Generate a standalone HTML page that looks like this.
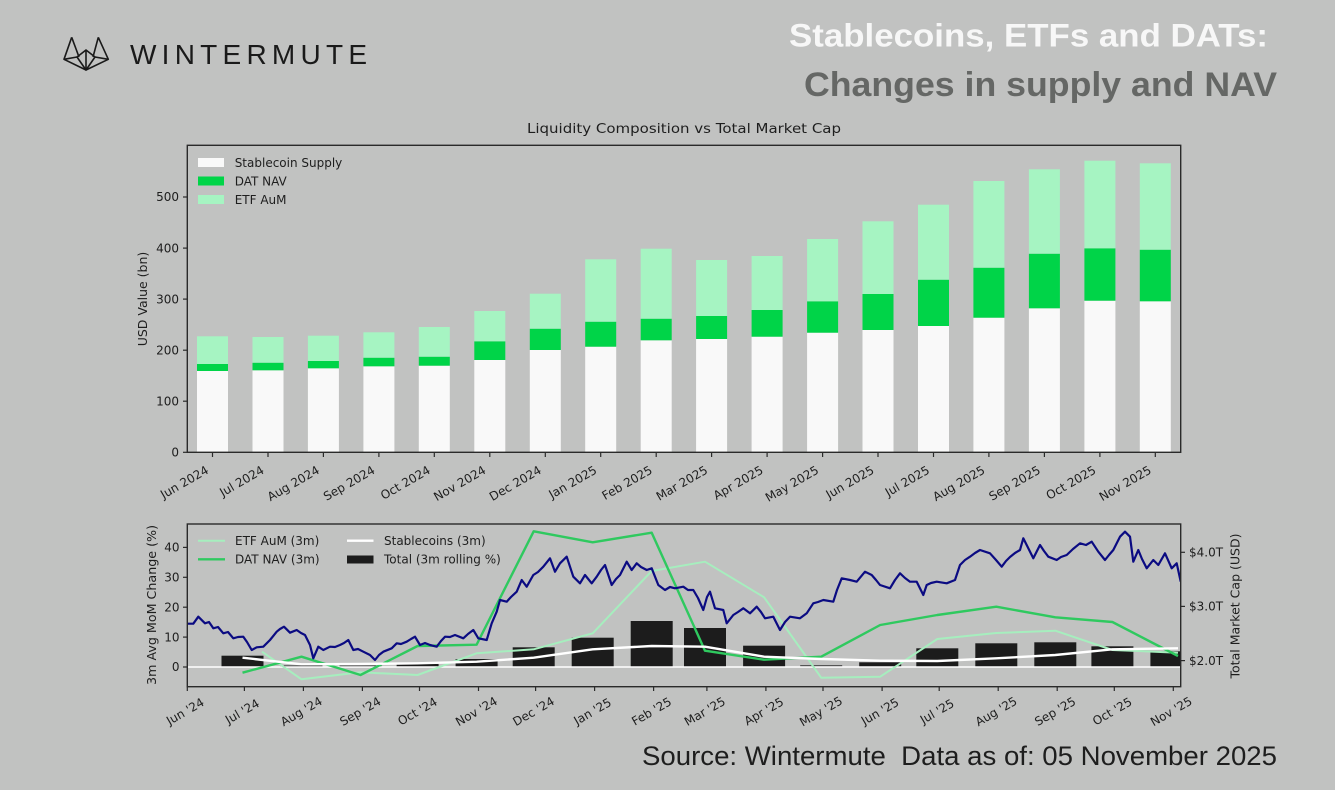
<!DOCTYPE html>
<html>
<head>
<meta charset="utf-8">
<style>
  html, body { margin:0; padding:0; background:#c1c2c1; }
  svg { display:block; }
  .t { font-family: "DejaVu Sans", "Liberation Sans", sans-serif; fill:#1e1e1e; }
</style>
</head>
<body>
<svg width="1335" height="790" viewBox="0 0 1335 790" xmlns="http://www.w3.org/2000/svg">
  <rect x="0" y="0" width="1335" height="790" fill="#c1c2c1"/>

  <!-- Logo -->
  <g fill="none" stroke="#1a1a1a" stroke-width="1.6" stroke-linejoin="round">
    <polyline points="71.7,37.3 64,59.3 86,70 108.3,59.3 98.3,37.3"/>
    <line x1="71.7" y1="37.3" x2="79" y2="57"/>
    <line x1="98.3" y1="37.3" x2="93" y2="57"/>
    <polygon points="86,50 77,57 86,70 95,57"/>
    <line x1="86" y1="50" x2="86" y2="70"/>
    <line x1="64" y1="59.3" x2="77" y2="57"/>
    <line x1="108.3" y1="59.3" x2="95" y2="57"/>
  </g>
  <text x="130" y="64" font-family="Liberation Sans, sans-serif" font-size="28" fill="#1a1a1a" textLength="237" lengthAdjust="spacing">WINTERMUTE</text>

  <!-- Title -->
  <text x="789" y="46.5" font-family="Liberation Sans, sans-serif" font-weight="bold" font-size="32.5" fill="#f7f7f7" textLength="479" lengthAdjust="spacingAndGlyphs">Stablecoins, ETFs and DATs:</text>
  <text x="804" y="96" font-family="Liberation Sans, sans-serif" font-weight="bold" font-size="34" fill="#656765" textLength="473" lengthAdjust="spacingAndGlyphs">Changes in supply and NAV</text>

  <!-- Top chart title -->
  <text class="t" x="684" y="133" font-size="13" text-anchor="middle" textLength="314" lengthAdjust="spacingAndGlyphs">Liquidity Composition vs Total Market Cap</text>

  <!-- ============ TOP CHART ============ -->
  <g id="topbars">
    <!-- bars: center = 212.5 + 55.46*i, width 31 -->
    <!-- i=0 -->
    <rect x="197" y="371" width="31" height="81.3" fill="#f9f9f9"/>
    <rect x="197" y="364" width="31" height="7" fill="#00d448"/>
    <rect x="197" y="336.3" width="31" height="27.7" fill="#a6f4c2"/>
    <!-- i=1 -->
    <rect x="252.5" y="370.3" width="31" height="82" fill="#f9f9f9"/>
    <rect x="252.5" y="362.7" width="31" height="7.6" fill="#00d448"/>
    <rect x="252.5" y="337" width="31" height="25.7" fill="#a6f4c2"/>
    <!-- i=2 -->
    <rect x="307.9" y="368.3" width="31" height="84" fill="#f9f9f9"/>
    <rect x="307.9" y="361" width="31" height="7.3" fill="#00d448"/>
    <rect x="307.9" y="335.7" width="31" height="25.3" fill="#a6f4c2"/>
    <!-- i=3 -->
    <rect x="363.4" y="366.3" width="31" height="86" fill="#f9f9f9"/>
    <rect x="363.4" y="357.7" width="31" height="8.6" fill="#00d448"/>
    <rect x="363.4" y="332.3" width="31" height="25.4" fill="#a6f4c2"/>
    <!-- i=4 -->
    <rect x="418.8" y="365.7" width="31" height="86.6" fill="#f9f9f9"/>
    <rect x="418.8" y="356.7" width="31" height="9" fill="#00d448"/>
    <rect x="418.8" y="327" width="31" height="29.7" fill="#a6f4c2"/>
    <!-- i=5 -->
    <rect x="474.3" y="360" width="31" height="92.3" fill="#f9f9f9"/>
    <rect x="474.3" y="341.3" width="31" height="18.7" fill="#00d448"/>
    <rect x="474.3" y="311" width="31" height="30.3" fill="#a6f4c2"/>
    <!-- i=6 -->
    <rect x="529.8" y="350" width="31" height="102.3" fill="#f9f9f9"/>
    <rect x="529.8" y="328.7" width="31" height="21.3" fill="#00d448"/>
    <rect x="529.8" y="293.7" width="31" height="35" fill="#a6f4c2"/>
    <!-- i=7 -->
    <rect x="585.2" y="346.7" width="31" height="105.6" fill="#f9f9f9"/>
    <rect x="585.2" y="321.7" width="31" height="25" fill="#00d448"/>
    <rect x="585.2" y="259.3" width="31" height="62.4" fill="#a6f4c2"/>
    <!-- i=8 -->
    <rect x="640.7" y="340.3" width="31" height="112" fill="#f9f9f9"/>
    <rect x="640.7" y="318.7" width="31" height="21.6" fill="#00d448"/>
    <rect x="640.7" y="248.7" width="31" height="70" fill="#a6f4c2"/>
    <!-- i=9 -->
    <rect x="696.1" y="339" width="31" height="113.3" fill="#f9f9f9"/>
    <rect x="696.1" y="316" width="31" height="23" fill="#00d448"/>
    <rect x="696.1" y="260" width="31" height="56" fill="#a6f4c2"/>
    <!-- i=10 -->
    <rect x="751.6" y="336.7" width="31" height="115.6" fill="#f9f9f9"/>
    <rect x="751.6" y="310" width="31" height="26.7" fill="#00d448"/>
    <rect x="751.6" y="256" width="31" height="54" fill="#a6f4c2"/>
    <!-- i=11 -->
    <rect x="807.1" y="332.7" width="31" height="119.6" fill="#f9f9f9"/>
    <rect x="807.1" y="301.3" width="31" height="31.4" fill="#00d448"/>
    <rect x="807.1" y="239" width="31" height="62.3" fill="#a6f4c2"/>
    <!-- i=12 -->
    <rect x="862.5" y="330" width="31" height="122.3" fill="#f9f9f9"/>
    <rect x="862.5" y="294" width="31" height="36" fill="#00d448"/>
    <rect x="862.5" y="221.3" width="31" height="72.7" fill="#a6f4c2"/>
    <!-- i=13 -->
    <rect x="918" y="326" width="31" height="126.3" fill="#f9f9f9"/>
    <rect x="918" y="279.7" width="31" height="46.3" fill="#00d448"/>
    <rect x="918" y="204.7" width="31" height="75" fill="#a6f4c2"/>
    <!-- i=14 -->
    <rect x="973.4" y="317.7" width="31" height="134.6" fill="#f9f9f9"/>
    <rect x="973.4" y="267.7" width="31" height="50" fill="#00d448"/>
    <rect x="973.4" y="181" width="31" height="86.7" fill="#a6f4c2"/>
    <!-- i=15 -->
    <rect x="1028.9" y="308.3" width="31" height="144" fill="#f9f9f9"/>
    <rect x="1028.9" y="253.7" width="31" height="54.6" fill="#00d448"/>
    <rect x="1028.9" y="169.3" width="31" height="84.4" fill="#a6f4c2"/>
    <!-- i=16 -->
    <rect x="1084.4" y="300.7" width="31" height="151.6" fill="#f9f9f9"/>
    <rect x="1084.4" y="248.3" width="31" height="52.4" fill="#00d448"/>
    <rect x="1084.4" y="160.7" width="31" height="87.6" fill="#a6f4c2"/>
    <!-- i=17 -->
    <rect x="1139.8" y="301.3" width="31" height="151" fill="#f9f9f9"/>
    <rect x="1139.8" y="249.7" width="31" height="51.6" fill="#00d448"/>
    <rect x="1139.8" y="163.3" width="31" height="86.4" fill="#a6f4c2"/>
  </g>

  <!-- top frame -->
  <rect x="187.3" y="145.3" width="993.4" height="307" fill="none" stroke="#2a2a2a" stroke-width="1.4"/>

  <!-- top y ticks -->
  <g stroke="#2a2a2a" stroke-width="1.2">
    <line x1="183" y1="452.3" x2="187.3" y2="452.3"/>
    <line x1="183" y1="401.2" x2="187.3" y2="401.2"/>
    <line x1="183" y1="350.2" x2="187.3" y2="350.2"/>
    <line x1="183" y1="299.1" x2="187.3" y2="299.1"/>
    <line x1="183" y1="248.1" x2="187.3" y2="248.1"/>
    <line x1="183" y1="197" x2="187.3" y2="197"/>
  </g>
  <g class="t" font-size="12" text-anchor="end">
    <text x="179" y="456.5">0</text>
    <text x="179" y="405.4">100</text>
    <text x="179" y="354.4">200</text>
    <text x="179" y="303.3">300</text>
    <text x="179" y="252.3">400</text>
    <text x="179" y="201.2">500</text>
  </g>
  <text class="t" font-size="12.5" text-anchor="middle" transform="translate(147,299) rotate(-90)">USD Value (bn)</text>

  <!-- top x ticks -->
  <g stroke="#2a2a2a" stroke-width="1.2">
    <line x1="212.5" y1="452.3" x2="212.5" y2="457"/>
    <line x1="268" y1="452.3" x2="268" y2="457"/>
    <line x1="323.4" y1="452.3" x2="323.4" y2="457"/>
    <line x1="378.9" y1="452.3" x2="378.9" y2="457"/>
    <line x1="434.3" y1="452.3" x2="434.3" y2="457"/>
    <line x1="489.8" y1="452.3" x2="489.8" y2="457"/>
    <line x1="545.3" y1="452.3" x2="545.3" y2="457"/>
    <line x1="600.7" y1="452.3" x2="600.7" y2="457"/>
    <line x1="656.2" y1="452.3" x2="656.2" y2="457"/>
    <line x1="711.6" y1="452.3" x2="711.6" y2="457"/>
    <line x1="767.1" y1="452.3" x2="767.1" y2="457"/>
    <line x1="822.6" y1="452.3" x2="822.6" y2="457"/>
    <line x1="878" y1="452.3" x2="878" y2="457"/>
    <line x1="933.5" y1="452.3" x2="933.5" y2="457"/>
    <line x1="988.9" y1="452.3" x2="988.9" y2="457"/>
    <line x1="1044.4" y1="452.3" x2="1044.4" y2="457"/>
    <line x1="1099.9" y1="452.3" x2="1099.9" y2="457"/>
    <line x1="1155.3" y1="452.3" x2="1155.3" y2="457"/>
  </g>
  <g class="t" font-size="12" text-anchor="end">
    <text transform="translate(209.5,472.5) rotate(-30)">Jun 2024</text>
    <text transform="translate(265,472.5) rotate(-30)">Jul 2024</text>
    <text transform="translate(320.4,472.5) rotate(-30)">Aug 2024</text>
    <text transform="translate(375.9,472.5) rotate(-30)">Sep 2024</text>
    <text transform="translate(431.3,472.5) rotate(-30)">Oct 2024</text>
    <text transform="translate(486.8,472.5) rotate(-30)">Nov 2024</text>
    <text transform="translate(542.3,472.5) rotate(-30)">Dec 2024</text>
    <text transform="translate(597.7,472.5) rotate(-30)">Jan 2025</text>
    <text transform="translate(653.2,472.5) rotate(-30)">Feb 2025</text>
    <text transform="translate(708.6,472.5) rotate(-30)">Mar 2025</text>
    <text transform="translate(764.1,472.5) rotate(-30)">Apr 2025</text>
    <text transform="translate(819.6,472.5) rotate(-30)">May 2025</text>
    <text transform="translate(875,472.5) rotate(-30)">Jun 2025</text>
    <text transform="translate(930.5,472.5) rotate(-30)">Jul 2025</text>
    <text transform="translate(985.9,472.5) rotate(-30)">Aug 2025</text>
    <text transform="translate(1041.4,472.5) rotate(-30)">Sep 2025</text>
    <text transform="translate(1096.9,472.5) rotate(-30)">Oct 2025</text>
    <text transform="translate(1152.3,472.5) rotate(-30)">Nov 2025</text>
  </g>

  <!-- top legend -->
  <rect x="198" y="158" width="26" height="9" fill="#f9f9f9"/>
  <rect x="198" y="176.5" width="26" height="9" fill="#00d448"/>
  <rect x="198" y="195" width="26" height="9" fill="#a6f4c2"/>
  <g class="t" font-size="12">
    <text x="234.7" y="167">Stablecoin Supply</text>
    <text x="234.7" y="185.5">DAT NAV</text>
    <text x="234.7" y="204">ETF AuM</text>
  </g>

  <!-- ============ BOTTOM CHART ============ -->
  <defs>
    <clipPath id="clipB"><rect x="187.3" y="524" width="993.4" height="162.7"/></clipPath>
  </defs>
  <g clip-path="url(#clipB)">
    <!-- bars: width 42, centers at month-ends -->
    <g fill="#1c1c1c">
      <rect x="221.5" y="655.7" width="42" height="11.3"/>
      <rect x="280.5" y="665.5" width="42" height="1.5"/>
      <rect x="339.5" y="665.5" width="42" height="1.5"/>
      <rect x="396.6" y="663.7" width="42" height="3.3"/>
      <rect x="455.6" y="659" width="42" height="8"/>
      <rect x="512.7" y="647.3" width="42" height="19.7"/>
      <rect x="571.7" y="637.7" width="42" height="29.3"/>
      <rect x="630.7" y="621" width="42" height="46"/>
      <rect x="684" y="628" width="42" height="39"/>
      <rect x="743.1" y="645.7" width="42" height="21.3"/>
      <rect x="800.2" y="665" width="42" height="2" fill="#555"/>
      <rect x="859.2" y="662.3" width="42" height="4.7"/>
      <rect x="916.3" y="648.3" width="42" height="18.7"/>
      <rect x="975.3" y="643.3" width="42" height="23.7"/>
      <rect x="1034.3" y="642.3" width="42" height="24.7"/>
      <rect x="1091.4" y="646.3" width="42" height="20.7"/>
      <rect x="1150.4" y="651.3" width="42" height="15.7"/>
    </g>
    <!-- zero line -->
    <line x1="187.3" y1="667" x2="1180.7" y2="667" stroke="#ffffff" stroke-width="1.6"/>
    <!-- ETF AuM (3m) -->
    <polyline fill="none" stroke="#a6eebe" stroke-width="2" stroke-linejoin="round"
      points="262,651.7 301.5,679.3 360.5,672.3 417.6,675 476.6,653.3 533.7,649.3 592.7,633.3 651.7,571 705,561.7 764.1,597.3 821.2,677.7 880.2,676.7 937.3,639 996.3,633 1055.3,630.7 1112.4,650 1178,652.7"/>
    <!-- DAT NAV (3m) -->
    <polyline fill="none" stroke="#2fc95f" stroke-width="2.4" stroke-linejoin="round"
      points="242.5,672.7 301.5,656.7 360.5,675 417.6,646 476.6,644.7 533.7,531.3 592.7,542.3 651.7,532.7 705,650.7 764.1,659.7 821.2,656.7 880.2,625 937.3,615 996.3,606.7 1055.3,617.3 1112.4,622 1178,656"/>
    <!-- Stablecoins (3m) -->
    <polyline fill="none" stroke="#ffffff" stroke-width="2.4" stroke-linejoin="round"
      points="242.5,657.7 301.5,664.3 360.5,664 417.6,663.3 476.6,661.7 533.7,657.7 592.7,649.3 651.7,646 705,646.7 764.1,656.7 821.2,659 880.2,660.7 937.3,661 996.3,658.3 1055.3,655 1112.4,649.3 1178,648.3"/>
    <!-- Total market cap -->
    <polyline fill="none" stroke="#0b0b82" stroke-width="2.2" stroke-linejoin="round"
      points="187.3,623.7 193.3,623.7 198.3,616.7 205,623.3 209,622 213.3,628.3 218,627 223.3,633.3 228,632 233.3,638.3 238,637 243.3,636.7 247,642 251.7,650 256.7,647.3 263.3,646.7 270,640 276.7,631.7 280,629 284,626.7 290,632.7 296.7,630 301,633 305,635 310,645 313.3,658.3 318.3,646.7 323.3,650 330,646.7 335,647 340,645 344,643 348.3,640 353.3,650 358,649 363.3,651.7 370,655 375,660 379,655 383.3,651.7 391.7,648.3 396.7,643.3 401,644 406.7,641.7 411,639 415,636.7 420,645 425,643 430,645 436.7,646.7 441,641 445,636.7 450,637 455,635 463.3,638.3 468,634 473.3,630 478.3,638.3 486.7,640 491.7,623.3 496.7,611.7 500,600 506.7,601.7 511,597 516.7,591.7 521.7,580 526.7,586.7 533.3,575 538,572 543.3,566.7 550,558.3 555,571.7 560,563.3 566.7,556.7 573.3,576.7 580,583.3 585,575 591.7,583.3 596.7,576.7 601,570 605,565 611.7,585 616,579 620,575 626.7,561.7 631.7,570 636.7,563.3 641,567 646.7,570 651.7,568.3 658.3,585 665,590 670,587 675,588.3 683.3,586.7 688,590 693.3,590 698,598 703.3,610 707,597 710,591.7 715,608.3 723.3,610 726.7,623.3 733.3,615 738,612 743.3,608.3 750,613.3 756.7,606.7 761,612 765,618.3 773.3,616.7 780,630 785,622 790,616.7 800,618.3 806.7,613.3 813.3,603.3 818,602 823.3,600 833.3,601.7 837,590 841.7,578.3 850,580 856.7,581.7 865,571.7 871.7,575 876,580 880,585 890,588.3 895,580 900,573.3 905,578 910,581.7 916.7,581.7 923.3,595 926.7,585 931,583 936.7,581.7 946.7,583.3 955,580 960,565 965,560 970,556.7 975,553 980,550 990,553.3 996,560 1001.7,566.7 1006,561 1010,557 1015,553 1020,550 1023.3,538.3 1028.3,548.3 1033.3,558.3 1040,545 1044,551 1048.3,556.7 1056.7,560 1061,557 1066.7,555 1073,549 1080,543.3 1086,545 1091.7,541.7 1098.3,551.7 1105,560 1109,555 1113.3,550 1120,536.7 1125,531.7 1130,536.7 1133.3,561.7 1138.3,550 1142,559 1146.7,568.3 1153.3,560 1158.3,565 1165,553.3 1171.7,568.3 1176.7,563.3 1180.7,581.7"/>
  </g>

  <!-- bottom frame -->
  <rect x="187.3" y="524" width="993.4" height="162.7" fill="none" stroke="#2a2a2a" stroke-width="1.4"/>

  <!-- bottom left y ticks -->
  <g stroke="#2a2a2a" stroke-width="1.2">
    <line x1="183" y1="667" x2="187.3" y2="667"/>
    <line x1="183" y1="637.1" x2="187.3" y2="637.1"/>
    <line x1="183" y1="607.2" x2="187.3" y2="607.2"/>
    <line x1="183" y1="577.3" x2="187.3" y2="577.3"/>
    <line x1="183" y1="547.4" x2="187.3" y2="547.4"/>
  </g>
  <g class="t" font-size="12" text-anchor="end">
    <text x="179.5" y="671.2">0</text>
    <text x="179.5" y="641.3">10</text>
    <text x="179.5" y="611.4">20</text>
    <text x="179.5" y="581.5">30</text>
    <text x="179.5" y="551.6">40</text>
  </g>
  <text class="t" font-size="12.5" text-anchor="middle" transform="translate(156,605) rotate(-90)" textLength="160" lengthAdjust="spacingAndGlyphs">3m Avg MoM Change (%)</text>

  <!-- bottom right y ticks -->
  <g stroke="#2a2a2a" stroke-width="1.2">
    <line x1="1180.7" y1="552.3" x2="1185" y2="552.3"/>
    <line x1="1180.7" y1="606.4" x2="1185" y2="606.4"/>
    <line x1="1180.7" y1="660.6" x2="1185" y2="660.6"/>
  </g>
  <g class="t" font-size="12">
    <text x="1189" y="556.5">$4.0T</text>
    <text x="1189" y="610.6">$3.0T</text>
    <text x="1189" y="664.8">$2.0T</text>
  </g>
  <text class="t" font-size="12.5" text-anchor="middle" transform="translate(1239.5,606) rotate(-90)" textLength="145" lengthAdjust="spacingAndGlyphs">Total Market Cap (USD)</text>

  <!-- bottom x ticks -->
  <g stroke="#2a2a2a" stroke-width="1.2">
    <line x1="187.3" y1="686.7" x2="187.3" y2="691"/>
    <line x1="244.4" y1="686.7" x2="244.4" y2="691"/>
    <line x1="303.4" y1="686.7" x2="303.4" y2="691"/>
    <line x1="362.4" y1="686.7" x2="362.4" y2="691"/>
    <line x1="419.5" y1="686.7" x2="419.5" y2="691"/>
    <line x1="478.5" y1="686.7" x2="478.5" y2="691"/>
    <line x1="535.6" y1="686.7" x2="535.6" y2="691"/>
    <line x1="594.6" y1="686.7" x2="594.6" y2="691"/>
    <line x1="653.6" y1="686.7" x2="653.6" y2="691"/>
    <line x1="706.9" y1="686.7" x2="706.9" y2="691"/>
    <line x1="765.9" y1="686.7" x2="765.9" y2="691"/>
    <line x1="823" y1="686.7" x2="823" y2="691"/>
    <line x1="882.1" y1="686.7" x2="882.1" y2="691"/>
    <line x1="939.2" y1="686.7" x2="939.2" y2="691"/>
    <line x1="998.2" y1="686.7" x2="998.2" y2="691"/>
    <line x1="1057.2" y1="686.7" x2="1057.2" y2="691"/>
    <line x1="1114.3" y1="686.7" x2="1114.3" y2="691"/>
    <line x1="1173.3" y1="686.7" x2="1173.3" y2="691"/>
  </g>
  <g class="t" font-size="12" text-anchor="middle">
    <text transform="translate(187.3,715) rotate(-30)">Jun '24</text>
    <text transform="translate(244.4,715) rotate(-30)">Jul '24</text>
    <text transform="translate(303.4,715) rotate(-30)">Aug '24</text>
    <text transform="translate(362.4,715) rotate(-30)">Sep '24</text>
    <text transform="translate(419.5,715) rotate(-30)">Oct '24</text>
    <text transform="translate(478.5,715) rotate(-30)">Nov '24</text>
    <text transform="translate(535.6,715) rotate(-30)">Dec '24</text>
    <text transform="translate(594.6,715) rotate(-30)">Jan '25</text>
    <text transform="translate(653.6,715) rotate(-30)">Feb '25</text>
    <text transform="translate(706.9,715) rotate(-30)">Mar '25</text>
    <text transform="translate(765.9,715) rotate(-30)">Apr '25</text>
    <text transform="translate(823,715) rotate(-30)">May '25</text>
    <text transform="translate(882.1,715) rotate(-30)">Jun '25</text>
    <text transform="translate(939.2,715) rotate(-30)">Jul '25</text>
    <text transform="translate(998.2,715) rotate(-30)">Aug '25</text>
    <text transform="translate(1057.2,715) rotate(-30)">Sep '25</text>
    <text transform="translate(1114.3,715) rotate(-30)">Oct '25</text>
    <text transform="translate(1173.3,715) rotate(-30)">Nov '25</text>
  </g>

  <!-- bottom legend -->
  <line x1="198" y1="540.7" x2="225" y2="540.7" stroke="#a6eebe" stroke-width="2"/>
  <line x1="198" y1="559.3" x2="225" y2="559.3" stroke="#2fc95f" stroke-width="2.4"/>
  <line x1="347" y1="540.7" x2="373.5" y2="540.7" stroke="#ffffff" stroke-width="2.4"/>
  <rect x="347" y="555.5" width="26.5" height="8" fill="#1c1c1c"/>
  <g class="t" font-size="12">
    <text x="235" y="545">ETF AuM (3m)</text>
    <text x="235" y="563.6">DAT NAV (3m)</text>
    <text x="384" y="545">Stablecoins (3m)</text>
    <text x="384" y="563.6">Total (3m rolling %)</text>
  </g>

  <!-- Footer -->
  <text x="642" y="765" font-family="Liberation Sans, sans-serif" font-size="27" fill="#1e1e1e" textLength="635" lengthAdjust="spacingAndGlyphs" xml:space="preserve">Source: Wintermute  Data as of: 05 November 2025</text>
</svg>
</body>
</html>
